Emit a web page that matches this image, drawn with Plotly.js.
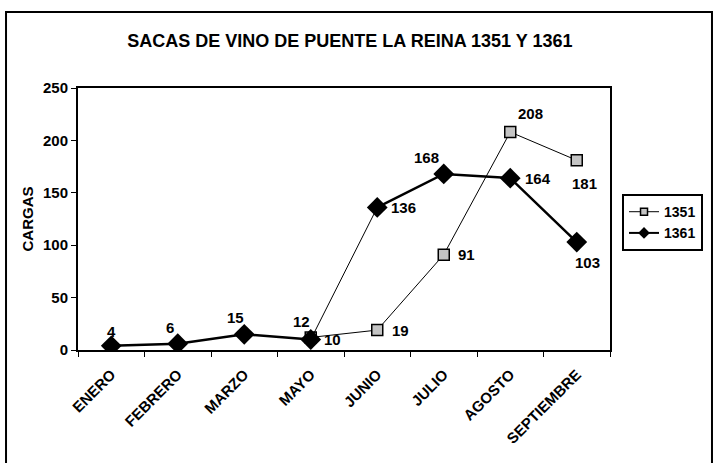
<!DOCTYPE html>
<html>
<head>
<meta charset="utf-8">
<script src="https://cdn.plot.ly/plotly-3.0.1.min.js"></script>
<style>html,body{margin:0;padding:0;background:#fff;}#chart{width:717px;height:463px;}</style>
</head>
<body>
<div id="chart"></div>
<script>
const months = ["ENERO","FEBRERO","MARZO","MAYO","JUNIO","JULIO","AGOSTO","SEPTIEMBRE"];
const v1351 = [null,null,null,12,19,91,208,181];
const v1361 = [4,6,15,10,136,168,164,103];

// label offsets in pixels (x right, y down)
const off1351 = [[0,0],[0,0],[0,0],[-9,-16],[23,0],[23,0],[20,-19],[8,23]];
const off1361 = [[0,-14],[-8,-16],[-9,-17],[22,0],[26,0],[-17,-16],[28,0],[11,20]];

const FAM = "Liberation Sans, Arial, sans-serif";
const F = {family: FAM, size: 15, color: "#000", weight: "bold"};
const FL = {family: FAM, size: 14, color: "#000", weight: "bold"};

const sq = {symbol: "square", size: 11, color: "#c4c4c4", line: {color: "#000", width: 1.5}};
const dm = {symbol: "diamond", size: 16, color: "#000", line: {color: "#000", width: 0}};

const traces = [
  {x: [null], y: [null], name: "1351", type: "scatter", mode: "lines+markers",
   line: {color: "#000", width: 1}, marker: {symbol: "square", size: 7, color: "#c4c4c4", line: {color: "#000", width: 1.5}}},
  {x: [null], y: [null], name: "1361", type: "scatter", mode: "lines+markers",
   line: {color: "#000", width: 2}, marker: {symbol: "diamond", size: 9, color: "#000"}},
  {x: months, y: v1351, name: "1351", showlegend: false, type: "scatter", mode: "lines+markers",
   line: {color: "#000", width: 1}, marker: sq},
  {x: months.slice(3, 5), y: v1361.slice(3, 5), showlegend: false, type: "scatter", mode: "lines",
   line: {color: "#000", width: 1}},
  {x: months.slice(0, 4), y: v1361.slice(0, 4), name: "1361", showlegend: false, type: "scatter", mode: "lines+markers",
   line: {color: "#000", width: 2.5}, marker: dm},
  {x: months.slice(4), y: v1361.slice(4), name: "1361", showlegend: false, type: "scatter", mode: "lines+markers",
   line: {color: "#000", width: 2.5}, marker: dm}
];

const annotations = [];
function addLabels(vals, offs) {
  vals.forEach((v, i) => {
    if (v === null) return;
    annotations.push({x: months[i], y: v, xref: "x", yref: "y", text: String(v), showarrow: false,
      xshift: offs[i][0], yshift: -offs[i][1], font: F, xanchor: "center", yanchor: "middle"});
  });
}
addLabels(v1351, off1351);
addLabels(v1361, off1361);

const layout = {
  width: 717, height: 463,
  margin: {l: 78, r: 107, t: 88, b: 113},
  paper_bgcolor: "#fff", plot_bgcolor: "#fff",
  font: F,
  title: {text: "SACAS DE VINO DE PUENTE LA REINA 1351 Y 1361", font: {family: FAM, size: 18, weight: "bold", color: "#000"},
          x: 0.488, xanchor: "center", y: 0.913, yanchor: "middle"},
  xaxis: {type: "category", range: [-0.5, 7.5], showline: true, linecolor: "#000", linewidth: 2, mirror: true,
          ticks: "outside", tickson: "boundaries", ticklen: 5, tickcolor: "#000", tickangle: -45,
          ticklabelstandoff: 8, showgrid: false, zeroline: false, tickfont: F},
  yaxis: {range: [0, 250], dtick: 50, showline: true, linecolor: "#000", linewidth: 2, mirror: true,
          ticks: "outside", ticklen: 5, tickcolor: "#000", showgrid: false, zeroline: false, tickfont: F,
          title: {text: "CARGAS", font: F, standoff: 6}},
  legend: {x: 1.0226, y: 0.595, xanchor: "left", yanchor: "top", bordercolor: "#000", borderwidth: 2,
           bgcolor: "#fff", font: FL, tracegroupgap: 0, itemwidth: 30},
  showlegend: true,
  annotations: annotations,
  shapes: [
    {type: "rect", xref: "paper", yref: "paper", x0: -0.1353, x1: 1.1917, y0: -0.5, y1: 1.29,
     line: {color: "#000", width: 2}, layer: "below"}
  ]
};

Plotly.newPlot("chart", traces, layout, {displayModeBar: false, staticPlot: true});
</script>
</body>
</html>
